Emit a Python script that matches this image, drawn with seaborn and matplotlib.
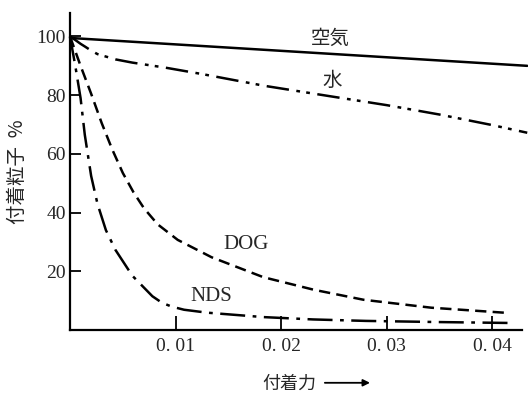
import matplotlib
matplotlib.use("Agg")
import matplotlib.pyplot as plt
import seaborn as sns
import pandas as pd

# values
air_x = [0.0, 0.0433]
air_y = [99.5, 90.0]

water_x = [0.0, 0.0005, 0.001, 0.0014, 0.002, 0.0026, 0.0043, 0.0059, 0.009,
           0.0125, 0.0184, 0.0247, 0.03, 0.035, 0.04, 0.0433]
water_y = [100, 98.8, 97.5, 96.6, 95.2, 94.0, 92.2, 91.1, 89.4,
           87.2, 83.2, 79.6, 76.6, 73.4, 69.8, 67.2]

dog_x = [0.0, 0.001, 0.002, 0.003, 0.004, 0.005, 0.006, 0.007, 0.0083,
         0.0102, 0.0134, 0.0183, 0.0231, 0.0278, 0.0342, 0.0415]
dog_y = [100, 90, 80.5, 70.5, 61.5, 53.5, 47, 41.5, 36,
         30.7, 24.8, 18, 13.7, 10.3, 7.6, 5.8]

nds_x = [0.0, 0.0005, 0.001, 0.0014, 0.002, 0.0026, 0.0034, 0.0043, 0.0059,
         0.0078, 0.0087, 0.0096, 0.0108, 0.013, 0.0183, 0.023, 0.028, 0.035, 0.0415]
nds_y = [100, 90, 79, 66.5, 52.5, 43, 34, 27.3, 18.5,
         11.5, 9.3, 8.0, 6.9, 5.9, 4.4, 3.6, 3.1, 2.7, 2.4]

series_names = ["空気", "水", "DOG", "NDS"]
label_pos = [(0.0247, 99.5), (0.0248, 85), (0.0167, 29), (0.0134, 11.3)]

x_ticks = [0.01, 0.02, 0.03, 0.04]
x_tick_labels = ["0. 01", "0. 02", "0. 03", "0. 04"]
y_ticks = [20, 40, 60, 80, 100]

sns.set_style("ticks")
plt.rcParams["font.family"] = ["Noto Sans CJK JP", "DejaVu Sans"]

fig = plt.figure(figsize=(5.28, 4.0), dpi=100)
ax = fig.add_axes([0.1326, 0.175, 0.856, 0.7925])

styles = {
    "空気": "-",
    "水": (0, (9, 3, 1.5, 2.5, 1.5, 3)),
    "DOG": (0, (4.5, 2.5)),
    "NDS": (0, (10, 3, 1.5, 3)),
}
data = {"空気": (air_x, air_y), "水": (water_x, water_y),
        "DOG": (dog_x, dog_y), "NDS": (nds_x, nds_y)}

for name in series_names:
    xs, ys = data[name]
    df = pd.DataFrame({"x": xs, "y": ys})
    sns.lineplot(data=df, x="x", y="y", ax=ax, color="black", linewidth=1.8,
                 linestyle=styles[name], sort=False, estimator=None,
                 clip_on=False)

for name, (lx, ly) in zip(series_names, label_pos):
    if name in ("空気", "水"):
        ax.text(lx, ly, name, fontsize=14, family=["Noto Sans CJK JP"],
                ha="center", va="center")
    else:
        ax.text(lx, ly, name, fontsize=15, family=["Liberation Serif"],
                ha="center", va="center")

ax.set_xlim(0, 0.0428)
ax.set_ylim(0, 108)
ax.set_xticks(x_ticks)
ax.set_xticklabels(x_tick_labels, family="Liberation Serif", fontsize=14)
ax.set_yticks(y_ticks)
ax.set_yticklabels([str(v) for v in y_ticks], family="Liberation Serif", fontsize=14)
ax.tick_params(direction="in", width=1.3, color="black")
ax.tick_params(axis="x", length=10, pad=6)
ax.tick_params(axis="y", length=8, pad=3)
sns.despine(ax=ax)
for s in ("left", "bottom"):
    ax.spines[s].set_linewidth(1.6)
    ax.spines[s].set_color("black")

ax.set_xlabel("")
ax.set_ylabel("付着粒子  %", fontsize=14, labelpad=6)

fig.text(0.496, 0.018, "付着力", fontsize=13, ha="left", va="bottom")
fig.add_artist(matplotlib.patches.FancyArrowPatch(
    (0.61, 0.043), (0.706, 0.043), transform=fig.transFigure,
    arrowstyle="-|>", mutation_scale=10, color="black", linewidth=1.3))

fig.savefig("out.png", dpi=100)
